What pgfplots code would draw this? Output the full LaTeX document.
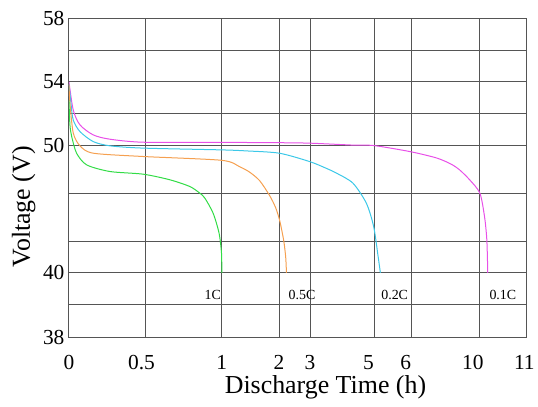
\documentclass[border=0pt]{standalone}
\usepackage{fontspec}
\setmainfont{Liberation Serif}
\usepackage{pgfplots}
\pgfplotsset{compat=1.18}

% plot colours
\definecolor{c01}{RGB}{232,80,232}
\definecolor{c02}{RGB}{60,200,232}
\definecolor{c05}{RGB}{245,160,80}
\definecolor{c1}{RGB}{50,220,70}
\definecolor{gridc}{RGB}{85,85,85}

\begin{document}
\begin{tikzpicture}
  \begin{axis}[
    scale only axis,
    width=457.7bp,
    height=319bp,
    % the chart's time axis is stretched piece by piece
    x coord trafo/.code={\pgfmathparse{153*#1 - 95.7*max(#1-1,0) - 26.3*max(#1-2,0)
        + 1*max(#1-3,0) + 5.7*max(#1-5,0) - 20.625*max(#1-6,0) + 29.325*max(#1-10,0)}},
    % and so is the voltage axis
    y coord trafo/.code={\pgfmathparse{32.15*(#1-38) - 19.42*max(#1-40,0) + 3.195*max(#1-50,0)}},
    xmin=0, xmax=11,
    ymin=38, ymax=58,
    xtick={0,0.475,1,2,3,4.825,5.84,9.59,10.96},
    xticklabels={0,0.5,1,2,3,5,6,10,11},
    ytick={38,40,50,54,58},
    yticklabels={38,40,50,54,58},
    extra x ticks={0.5,1,2,3,5,6,10},
    extra x tick labels={},
    extra x tick style={grid=major},
    extra y ticks={39,42.46,46.26,52,56},
    extra y tick labels={},
    extra y tick style={grid=major},
    ymajorgrids=true,
    major tick length=0pt,
    grid style={draw=gridc, line width=0.9bp},
    axis line style={draw=gridc, line width=0.9bp},
    /pgf/number format/assume math mode=true,
    ticklabel style={font=\fontsize{21.5}{22}\selectfont\rmfamily},
    xticklabel style={yshift=-15bp},
    yticklabel style={xshift=-1bp},
    xlabel={Discharge Time (h)},
    ylabel={Voltage (V)},
    label style={font=\fontsize{26}{27}\selectfont},
    xlabel style={at={(axis description cs:0.561,0)}, anchor=base, yshift=-57bp},
    ylabel style={at={(axis description cs:-0.0852,0.4085)}, anchor=base},
    every axis plot/.append style={line width=1bp, smooth, tension=0.45},
  ]

  % 0.1C
  \addplot[c01] coordinates {
    (0,54.02) (0.028,52.24) (0.072,51.30) (0.159,50.67) (0.268,50.40) (0.486,50.21)
    (1.0,50.20) (2.0,50.18) (3.0,50.15) (4.34,50.03) (5.0,50.0) (5.95,49.53)
    (7.45,49.03) (8.30,48.55) (8.81,48.09) (9.40,47.31) (10.0,46.26) (10.10,44.42)
    (10.15,42.59) (10.17,40.0)
  };

  % 0.2C
  \addplot[c02] coordinates {
    (0,53.87) (0.013,52.68) (0.028,51.61) (0.072,50.88) (0.159,50.25) (0.268,49.98)
    (0.486,49.80) (1.0,49.66) (1.43,49.58) (2.01,49.40) (2.99,48.74) (3.50,48.22)
    (3.83,47.83) (4.34,47.05) (4.76,45.48) (4.99,43.64) (5.11,41.28) (5.17,40.0)
  };

  % 0.5C
  \addplot[c05] coordinates {
    (0,53.87) (0.0065,52.68) (0.028,50.80) (0.072,49.98) (0.159,49.40) (0.486,49.14)
    (1.0,48.84) (1.314,48.33) (1.489,47.90) (1.663,47.23) (1.838,46.05) (1.942,45.10)
    (2.023,44.08) (2.152,42.51) (2.216,41.18) (2.239,40.0)
  };

  % 1C
  \addplot[c1] coordinates {
    (0,52.86) (0.0065,51.30) (0.018,50.57) (0.050,49.40) (0.116,48.48) (0.268,47.96)
    (0.486,47.75) (0.660,47.31) (0.791,46.78) (0.856,46.26) (0.889,45.87) (0.943,44.69)
    (0.982,43.12) (0.998,41.55) (1.0,40.0)
  };

  \node[font=\fontsize{14}{14}\selectfont] at (rel axis cs:0.3146,0.1304) {1C};
  \node[font=\fontsize{14}{14}\selectfont] at (rel axis cs:0.5097,0.1304) {0.5C};
  \node[font=\fontsize{14}{14}\selectfont] at (rel axis cs:0.7123,0.1304) {0.2C};
  \node[font=\fontsize{14}{14}\selectfont] at (rel axis cs:0.9489,0.1304) {0.1C};
  \end{axis}
  \path ([shift={(-69bp,-69.7bp)}]current axis.south west)
    rectangle ([shift={(11.3bp,18.3bp)}]current axis.north east);
\end{tikzpicture}
\end{document}
